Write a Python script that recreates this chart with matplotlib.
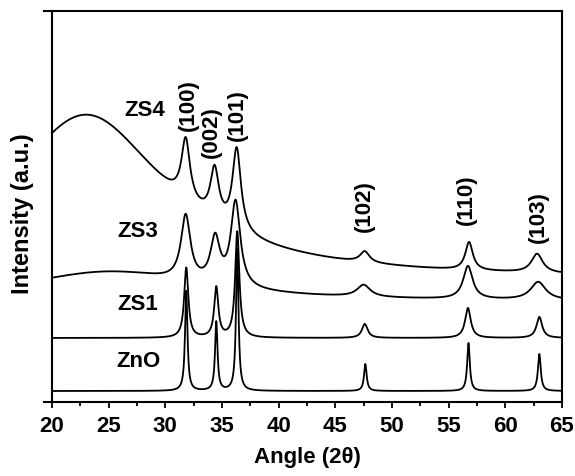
import numpy as np
import matplotlib

matplotlib.use('Agg')
import matplotlib.pyplot as plt
from matplotlib.ticker import MultipleLocator

plt.rcParams['font.family'] = ['Liberation Sans', 'DejaVu Sans']
plt.rcParams['font.weight'] = 'bold'

# peak parameters: position (deg 2theta), height, half width (a.u.)
zno_base = 11
zno_pos = [31.85, 34.5, 36.35, 47.65, 56.75, 63.0]
zno_height = [100, 69, 142, 27, 48, 37]
zno_hwhm = [0.13, 0.13, 0.13, 0.14, 0.14, 0.15]

zs1_base = 64
zs1_pos = [31.85, 34.5, 36.35, 47.6, 56.7, 63.0]
zs1_height = [70, 50, 106, 14, 30, 21]
zs1_hwhm = [0.22, 0.22, 0.22, 0.3, 0.3, 0.3]

zs3_base = 100
zs3_hump = [25.0, 30, 10.0]  # broad background: centre, height, half width
zs3_pos = [31.8, 34.4, 36.2, 47.5, 56.7, 62.9]
zs3_height = [65, 45, 85, 12, 33, 18]
zs3_hwhm = [0.5, 0.5, 0.5, 0.7, 0.5, 0.8]

zs4_base = 122
zs4_hump = [23.0, 165, 8.5]
zs4_pos = [31.8, 34.35, 36.3, 47.6, 56.8, 62.8]
zs4_height = [61, 50, 82, 11, 28, 19]
zs4_hwhm = [0.45, 0.45, 0.45, 0.5, 0.4, 0.6]

sample_labels = ['ZnO', 'ZS1', 'ZS3', 'ZS4']
sample_label_pos = [(27.6, 41), (27.6, 98), (27.6, 171), (28.2, 293)]
hkl_labels = ['(100)', '(002)', '(101)', '(102)', '(110)', '(103)']
hkl_label_pos = [(32.0, 298), (34.1, 271), (36.4, 288), (47.6, 197), (56.6, 203), (62.9, 186)]


def lorentz(x, centre, height, hwhm):
    return height / (1 + ((x - centre) / hwhm) ** 2)


def pattern(x, base, pos, height, hwhm, hump=None):
    y = np.full_like(x, float(base))
    if hump is not None:
        y += lorentz(x, hump[0], hump[1], hump[2])
    for c, h, w in zip(pos, height, hwhm):
        y += lorentz(x, c, h, w)
    return y


two_theta = np.linspace(20, 65, 4501)

fig = plt.figure(figsize=(5.75, 4.77), dpi=100)
ax = fig.add_axes([44 / 575, 74 / 477, 518 / 575, 391 / 477])

ax.plot(two_theta, pattern(two_theta, zno_base, zno_pos, zno_height, zno_hwhm), color='black', lw=1.3)
ax.plot(two_theta, pattern(two_theta, zs1_base, zs1_pos, zs1_height, zs1_hwhm), color='black', lw=1.3)
ax.plot(two_theta, pattern(two_theta, zs3_base, zs3_pos, zs3_height, zs3_hwhm, zs3_hump), color='black', lw=1.3)
ax.plot(two_theta, pattern(two_theta, zs4_base, zs4_pos, zs4_height, zs4_hwhm, zs4_hump), color='black', lw=1.3)

for name, (x, y) in zip(sample_labels, sample_label_pos):
    ax.text(x, y, name, ha='center', va='center', fontsize=16, fontweight='bold')
for name, (x, y) in zip(hkl_labels, hkl_label_pos):
    ax.text(x, y, name, ha='center', va='center', rotation=90, fontsize=16, fontweight='bold')

ax.set_xlim(19.3, 65)
ax.set_ylim(0, 391)
ax.spines['left'].set_position(('data', 20))
for s in ax.spines.values():
    s.set_linewidth(1.5)

ax.xaxis.set_major_locator(MultipleLocator(5))
ax.xaxis.set_minor_locator(MultipleLocator(2.5))
ax.tick_params(axis='x', which='major', direction='out', length=4.5, width=1.3, pad=5, labelsize=16)
ax.tick_params(axis='x', which='minor', direction='out', length=3, width=1.3)
ax.set_xticks(np.arange(20, 66, 5))
ax.set_yticks([])
for lbl in ax.get_xticklabels():
    lbl.set_fontweight('bold')

fig.text(307 / 575, 1 - 458 / 477, 'Angle (2θ)', ha='center', va='center', fontsize=16, fontweight='bold')
fig.text(23 / 575, 1 - 214 / 477, 'Intensity (a.u.)', ha='center', va='center', rotation=90,
         fontsize=17, fontweight='bold')

fig.savefig('out.png', dpi=100)
